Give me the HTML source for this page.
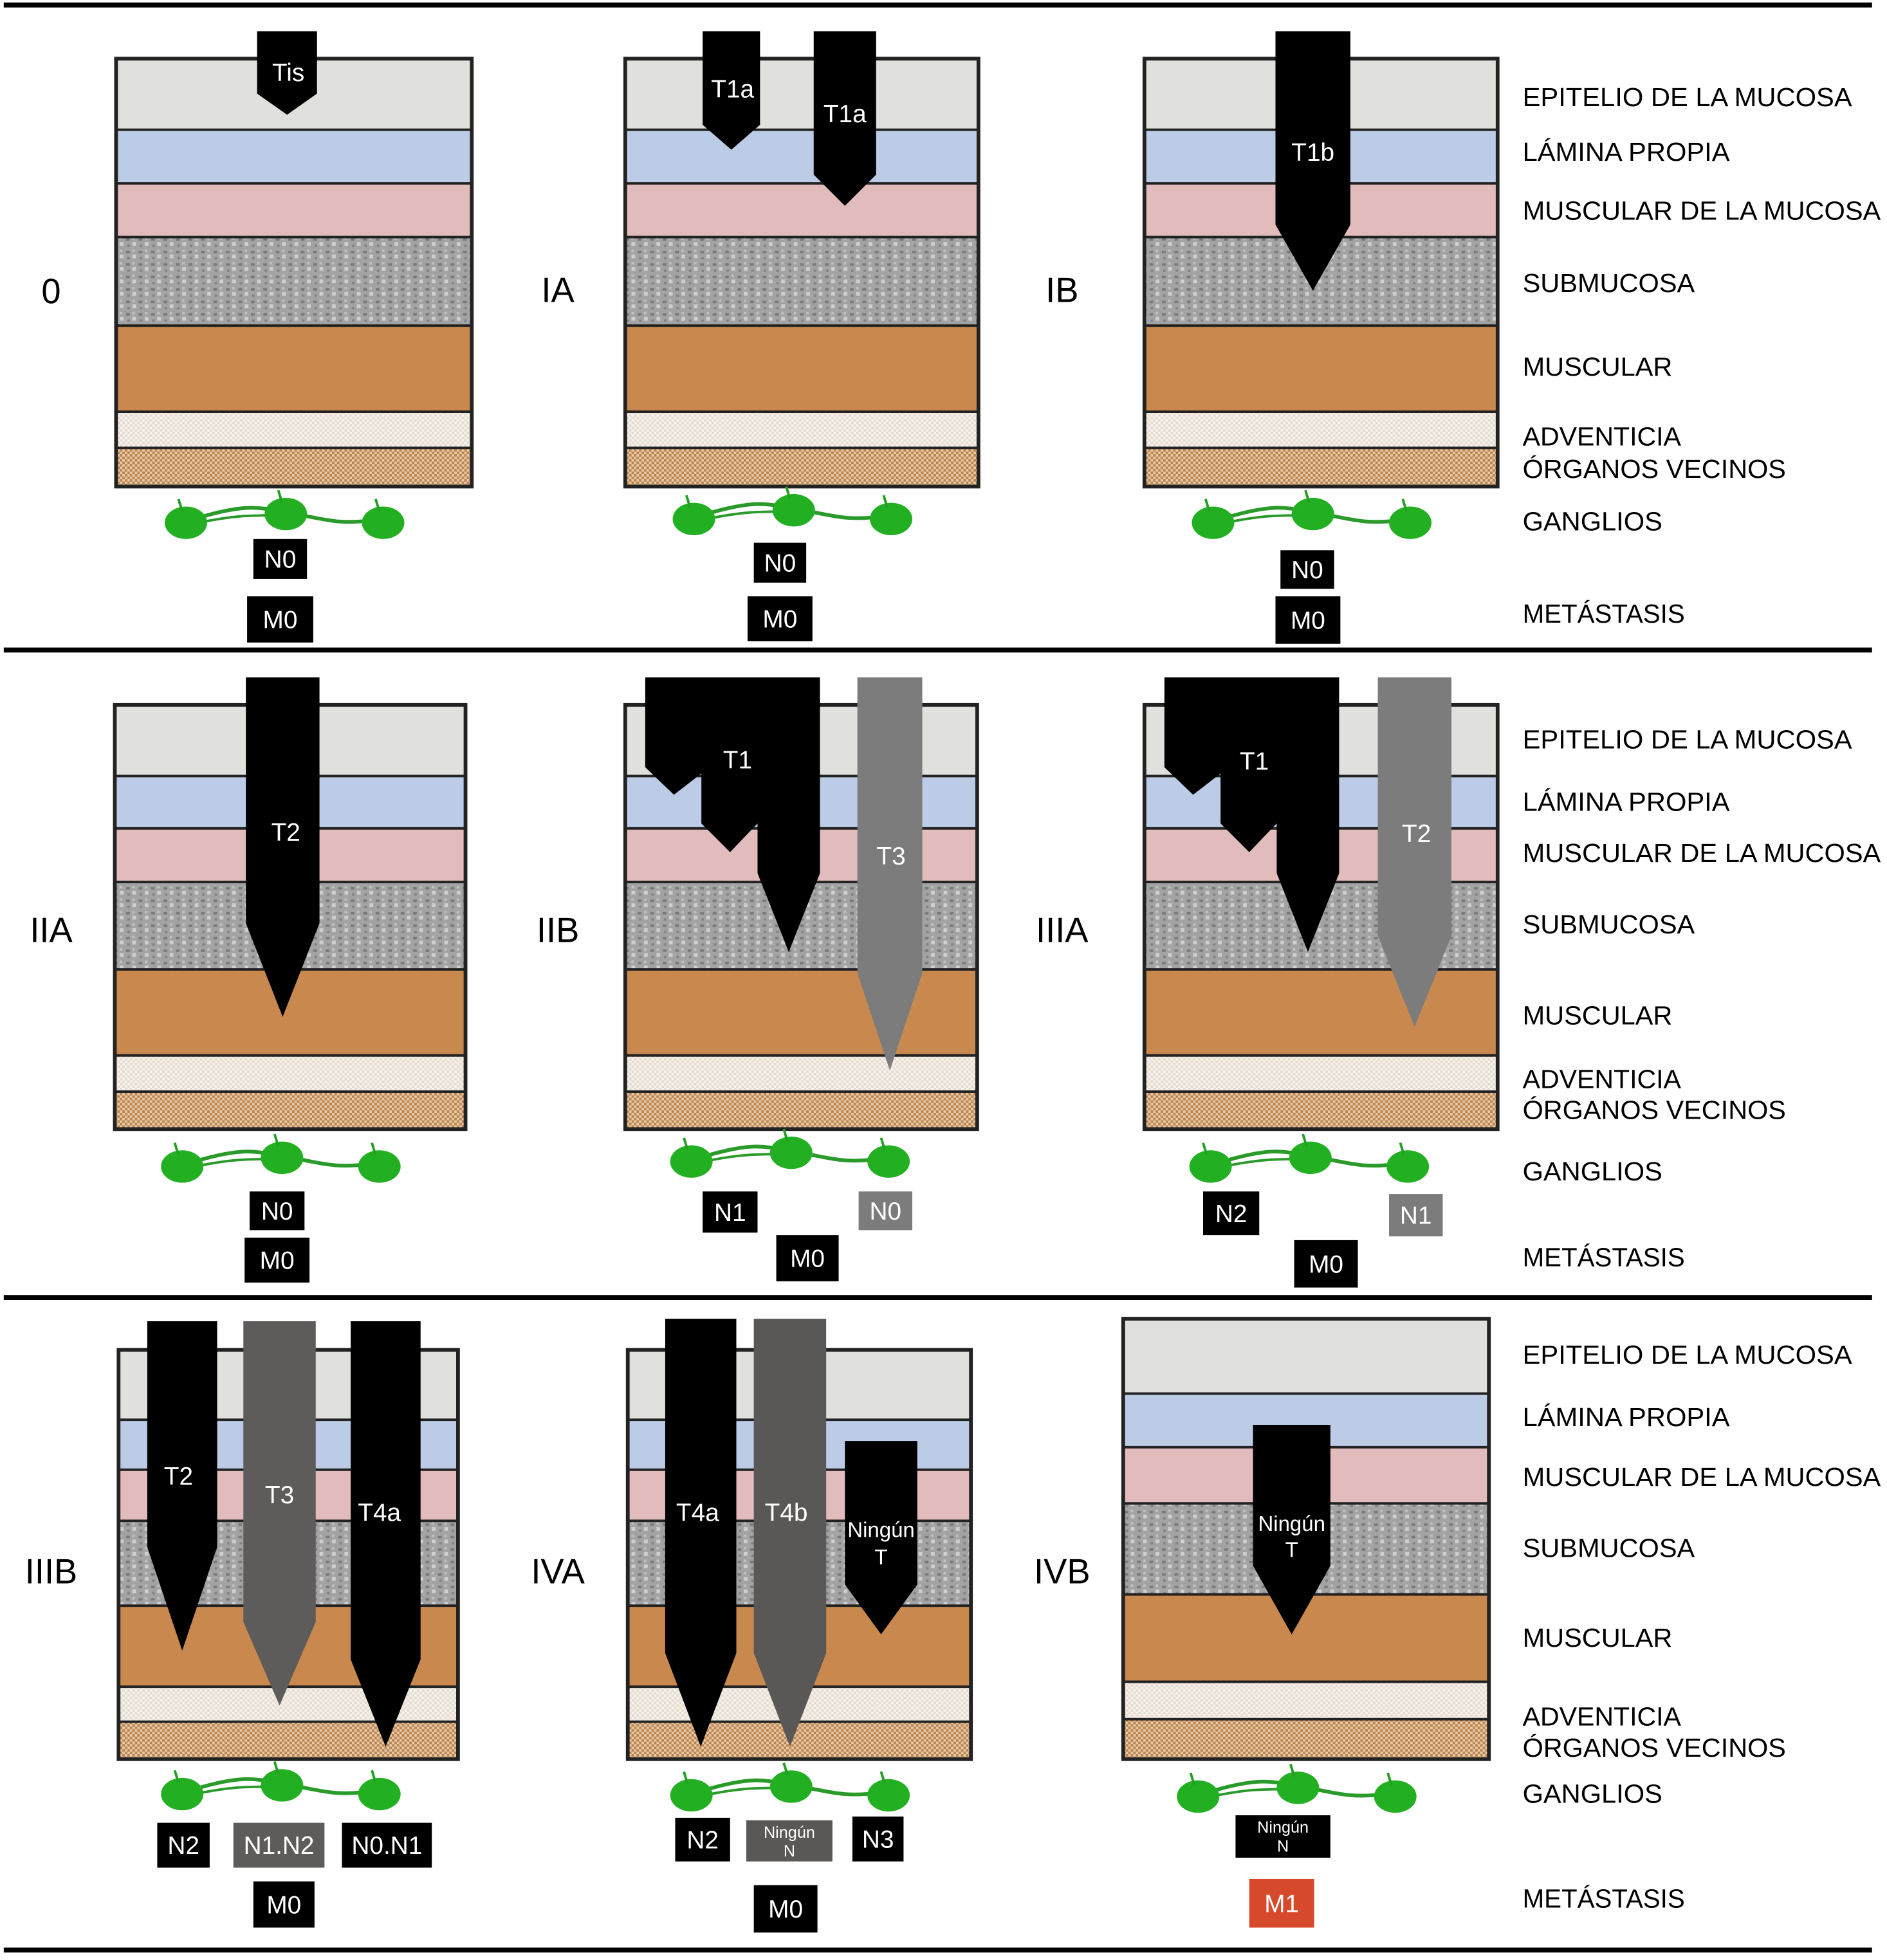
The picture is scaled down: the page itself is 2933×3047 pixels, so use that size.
<!DOCTYPE html>
<html><head><meta charset="utf-8"><style>
html,body{margin:0;padding:0;background:#fff}
svg{display:block}
text{font-family:"Liberation Sans",sans-serif}
</style></head><body>
<svg id="s" width="2933" height="3047" viewBox="0 0 1512 1571" preserveAspectRatio="none" xmlns="http://www.w3.org/2000/svg">
<defs>
<pattern id="chk" width="4" height="4" patternUnits="userSpaceOnUse"><rect width="4" height="4" fill="#e9c9a6"/><rect width="2" height="2" fill="#b88450"/><rect x="2" y="2" width="2" height="2" fill="#b88450"/></pattern>
<pattern id="chk2" width="4" height="4" patternUnits="userSpaceOnUse"><rect width="4" height="4" fill="#f7f2ec"/><rect width="2" height="2" fill="#e6dbd0"/><rect x="2" y="2" width="2" height="2" fill="#e6dbd0"/></pattern>
<pattern id="sub" width="10" height="10" patternUnits="userSpaceOnUse"><rect width="10" height="10" fill="#a3a3a3"/><rect x="1" y="1" width="3" height="2" fill="#7a7a7a"/><rect x="6" y="4" width="3" height="3" fill="#cfcfcf"/><rect x="2" y="6" width="2" height="2" fill="#838383"/><rect x="6" y="0" width="2" height="2" fill="#c0c0c0"/></pattern>
</defs>
<g id="g"></g>
</svg>
<script>
var out=[];
function R(x,y,w,h,f,extra){out.push('<rect x="'+x+'" y="'+y+'" width="'+w+'" height="'+h+'" fill="'+f+'" '+(extra||'')+'/>');}
function T(x,y,s,t,fill,anchor,len){out.push('<text x="'+x+'" y="'+y+'" font-size="'+s+'" fill="'+(fill||'#000')+'" text-anchor="'+(anchor||'middle')+'"'+(len?' textLength="'+len+'" lengthAdjust="spacingAndGlyphs"':'')+'>'+t+'</text>');}
function box(x1,x2,ys){var f=['#e0e0dd','#bccce6','#e2bcbc','url(#sub)','#c8884e','url(#chk2)','url(#chk)'];
 for(var i=0;i<7;i++){R(x1,ys[i],x2-x1,ys[i+1]-ys[i],f[i]);out.push('<line x1="'+x1+'" x2="'+x2+'" y1="'+ys[i]+'" y2="'+ys[i]+'" stroke="#222" stroke-width="2"/>');}
 R(x1,ys[0],x2-x1,ys[7]-ys[0],'none','stroke="#222" stroke-width="3"');}
function tum(x1,x2,t,sh,tip,c){var m=(x1+x2)/2;out.push('<polygon points="'+x1+','+t+' '+x2+','+t+' '+x2+','+sh+' '+m+','+tip+' '+x1+','+sh+'" fill="'+c+'"/>');}
function poly(p,c){out.push('<polygon points="'+p+'" fill="'+c+'"/>');}
function gang(cx,y){var l=cx-80,r=cx+78;
 out.push('<path d="M'+(l+10)+' '+(y-2)+' C '+(l+50)+' '+(y-14)+' '+(cx-20)+' '+(y-10)+' '+cx+' '+(y-6)+' C '+(cx+30)+' '+(y-2)+' '+(r-40)+' '+(y+4)+' '+(r-8)+' '+y+'" stroke="#2a9a2a" stroke-width="3" fill="none"/>');
 out.push('<path d="M'+(l+10)+' '+(y+2)+' C '+(l+40)+' '+(y-4)+' '+(cx-30)+' '+(y-4)+' '+cx+' '+(y-4)+'" stroke="#2a9a2a" stroke-width="2" fill="none"/>');
 [[l,y+2],[cx,y-5],[r,y+2]].forEach(function(p){out.push('<ellipse cx="'+p[0]+'" cy="'+p[1]+'" rx="17" ry="13" fill="#22b022"/>');out.push('<line x1="'+(p[0]-3)+'" y1="'+(p[1]-9)+'" x2="'+(p[0]-6)+'" y2="'+(p[1]-19)+'" stroke="#22a022" stroke-width="2"/>');});}
function lab(x1,x2,y1,y2,t,c,s){R(x1,y1,x2-x1,y2-y1,c||'#000');var lines=t.split('|');if(lines.length==1)T((x1+x2)/2,(y1+y2)/2+7,s||20,t,'#fff');else{T((x1+x2)/2,y1+14,13,lines[0],'#fff');T((x1+x2)/2,y1+29,13,lines[1],'#fff');}}
[4,521,1040,1563].forEach(function(y){R(3,y-2,1497,4,'#000');});
[['0',41,243],['IA',447,242],['IB',851,242],['IIA',41,755],['IIB',447,755],['IIIA',851,755],['IIIB',41,1269],['IVA',447,1269],['IVB',851,1269]].forEach(function(a){T(a[1],a[2],28,a[0]);});
var names=['EPITELIO DE LA MUCOSA','LÁMINA PROPIA','MUSCULAR DE LA MUCOSA','SUBMUCOSA','MUSCULAR','ADVENTICIA','ÓRGANOS VECINOS','GANGLIOS','METÁSTASIS'];
var lens=[264,166,287,138,120,127,211,112,130];
[[78,122,169,227,294,350,376,418,492],[593,643,684,741,814,865,890,939,1008],[1086,1136,1184,1241,1313,1376,1401,1438,1522]].forEach(function(r){r.forEach(function(y,i){T(1220,y+7,21,names[i],'#000','start',lens[i]);});});
var y1=[47,104,147,190,261,330,359,390],y2=[565,622,664,707,777,846,875,905],y3=[1082,1138,1178,1219,1287,1352,1380,1410],y4=[1057,1117,1160,1205,1278,1348,1378,1410];
box(93,378,y1);box(501,784,y1);box(917,1200,y1);
box(92,373,y2);box(501,783,y2);box(917,1200,y2);
box(95,367,y3);box(503,778,y3);box(900,1193,y4);
tum(206,254,25,75,92,'#000');T(231,65,20,'Tis','#fff');
tum(563,609,25,100,120,'#000');T(587,78,20,'T1a','#fff');
tum(652,702,25,140,165,'#000');T(677,98,20,'T1a','#fff');
tum(1022,1082,25,180,233,'#000');T(1052,129,20,'T1b','#fff');
tum(197,256,543,740,815,'#000');T(229,674,20,'T2','#fff');
function big(dx){var p=[[517,543],[657,543],[657,700],[632,763],[607,700],[607,660],[585,683],[562,660],[562,620],[540,637],[517,615]];return p.map(function(q){return (q[0]+dx)+','+q[1];}).join(' ');}
poly(big(0),'#000');T(591,616,20,'T1','#fff');
tum(687,739,543,780,858,'#7c7c7c');T(714,693,20,'T3','#fff');
poly(big(416),'#000');T(1005,617,20,'T1','#fff');
tum(1104,1163,543,750,823,'#7c7c7c');T(1135,675,20,'T2','#fff');
tum(118,174,1059,1240,1323,'#000');T(143,1190,20,'T2','#fff');
tum(195,253,1059,1300,1367,'#5e5c5b');T(224,1205,20,'T3','#fff');
tum(281,337,1059,1330,1400,'#000');T(304,1219,20,'T4a','#fff');
tum(533,590,1057,1325,1400,'#000');T(559,1219,20,'T4a','#fff');
tum(604,662,1057,1325,1400,'#5a5857');T(630,1219,20,'T4b','#fff');
tum(677,735,1155,1270,1310,'#000');T(706,1232,17,'Ningún','#fff');T(706,1254,17,'T','#fff');
tum(1004,1066,1142,1255,1310,'#000');T(1035,1227,17,'Ningún','#fff');T(1035,1248,17,'T','#fff');
gang(229,417);gang(636,414);gang(1052,417);
gang(226,933);gang(634,929);gang(1050,933);
gang(226,1436);gang(634,1437);gang(1040,1438);
lab(203,246,432,464,'N0');lab(198,251,478,515,'M0');
lab(604,646,435,467,'N0');lab(599,651,478,514,'M0');
lab(1026,1069,441,472,'N0');lab(1022,1074,478,516,'M0');
lab(200,244,955,986,'N0');lab(196,248,992,1028,'M0');
lab(563,607,955,988,'N1');lab(688,731,955,986,'N0','#7c7c7c');lab(622,672,990,1027,'M0');
lab(964,1009,955,990,'N2');lab(1113,1156,957,991,'N1','#7c7c7c');lab(1037,1088,994,1032,'M0');
lab(126,168,1461,1497,'N2');lab(187,260,1461,1497,'N1.N2','#5e5c5b');lab(274,346,1461,1497,'N0.N1');lab(203,252,1508,1545,'M0');
lab(541,585,1457,1492,'N2');lab(598,667,1459,1492,'Ningún|N','#5a5857');lab(683,724,1456,1492,'N3');lab(604,655,1511,1549,'M0');
lab(990,1066,1455,1489,'Ningún|N');lab(1001,1053,1506,1545,'M1','#d6492a');
document.getElementById('g').innerHTML=out.join('');
</script>
</body></html>
